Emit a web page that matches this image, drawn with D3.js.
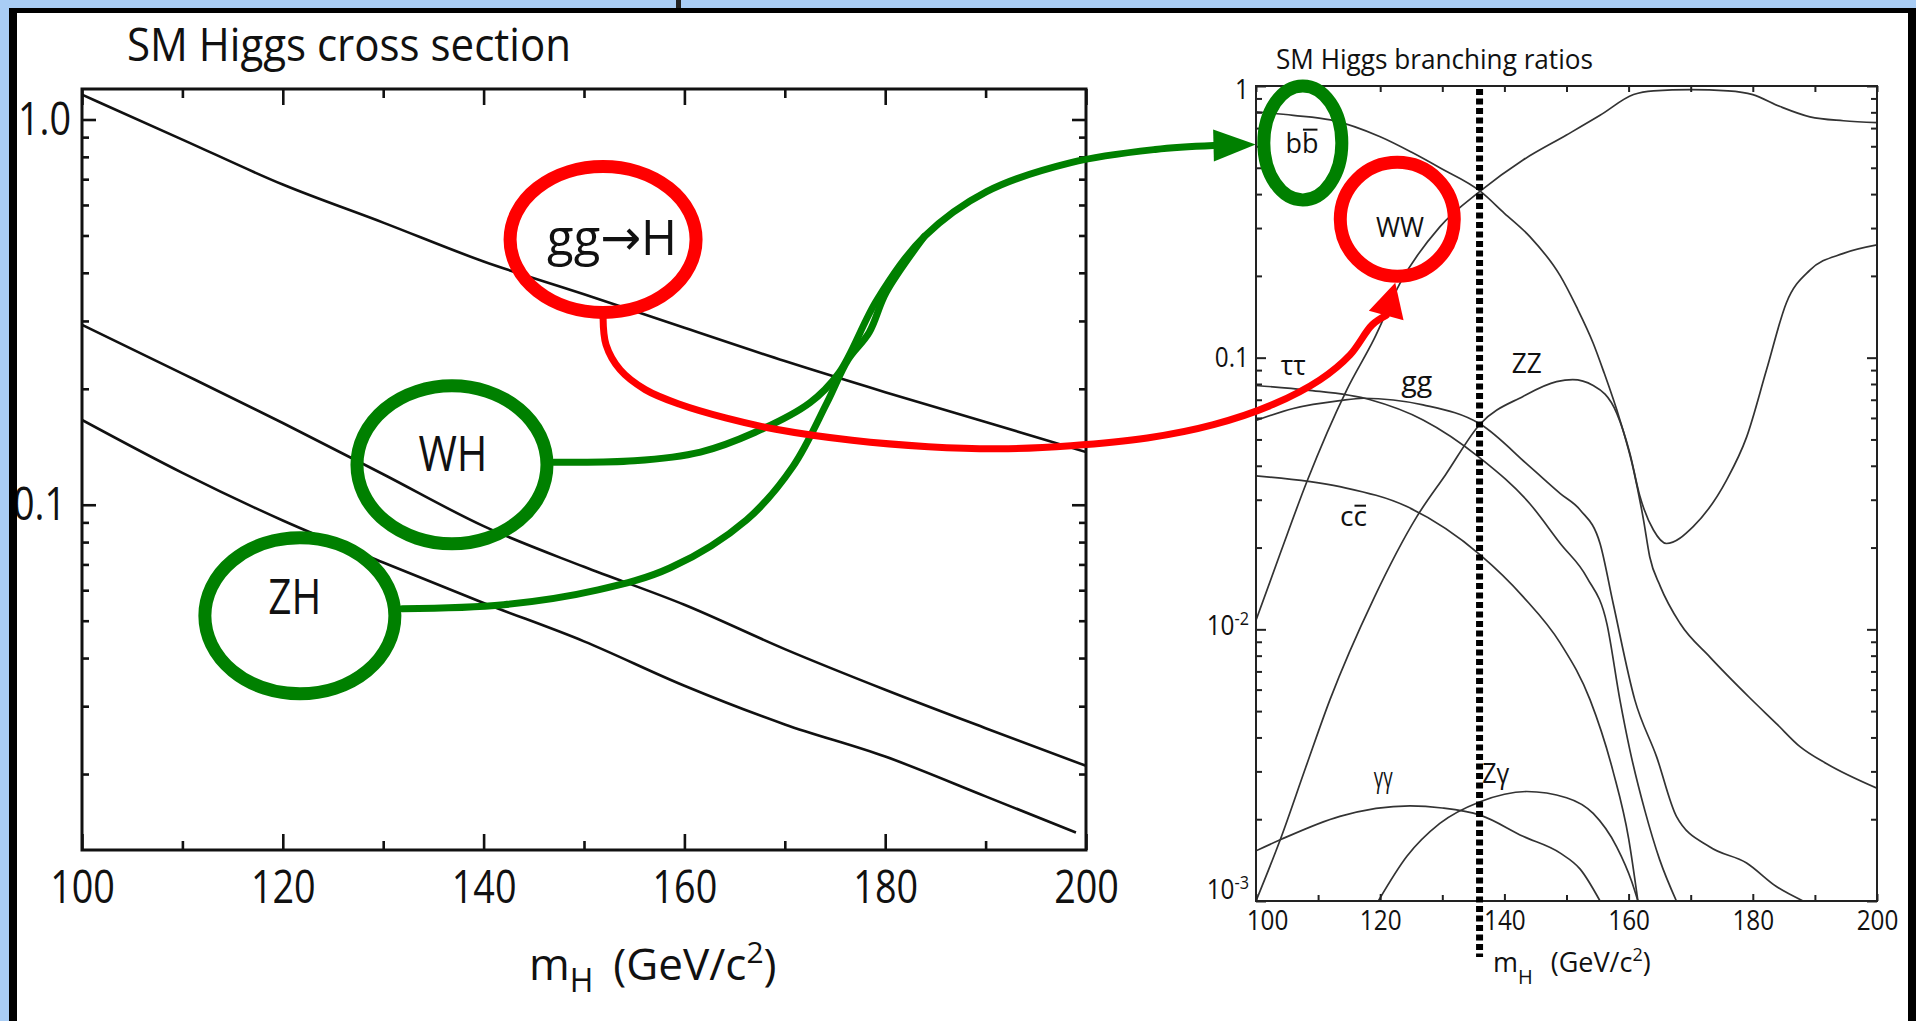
<!DOCTYPE html>
<html>
<head>
<meta charset="utf-8">
<title>SM Higgs cross section and branching ratios</title>
<script src="https://cdn.jsdelivr.net/npm/d3@7"></script>
<style>
  html, body { margin: 0; padding: 0; overflow: hidden; background: #a9cdf5; }
  svg { display: block; }
  text { font-family: "Open Sans", "DejaVu Sans", sans-serif; fill: #111; }
</style>
</head>
<body>
<svg id="figure" width="1916" height="1021"></svg>
<script>
// ---- cross section panel (log scale) ----
const xsMass = [100, 110, 120, 130, 140, 150, 160, 170, 180, 190, 200];
const xsGgH = [1.16, 0.887, 0.678, 0.54, 0.428, 0.352, 0.288, 0.236, 0.196, 0.164, 0.137];
const xsWH = [0.293, 0.219, 0.163, 0.120, 0.088, 0.069, 0.055, 0.0422, 0.0331, 0.0263, 0.021];
const xsZHMass = [100, 110, 120, 130, 140, 150, 160, 170, 180, 190, 199];
const xsZH = [0.166, 0.121, 0.091, 0.0708, 0.0556, 0.0442, 0.0339, 0.0269, 0.0222, 0.0175, 0.0141];
const xsMassTicks = [100, 120, 140, 160, 180, 200];
const xsValueTicks = [1.0, 0.1];

// ---- branching ratio panel: [mH, BR] ----
const brBB = [[100, 0.804], [106, 0.78], [112, 0.75], [120, 0.65], [125, 0.571], [129.6, 0.5], [136.1, 0.41], [140, 0.34], [144.1, 0.279], [149, 0.2], [151.6, 0.154], [154.3, 0.113], [155.9, 0.09], [158.6, 0.059], [160.8, 0.0386], [162.4, 0.0253], [163.4, 0.0185], [165.1, 0.0144], [168.3, 0.0105], [173.1, 0.0079], [179.5, 0.0056], [183.8, 0.0045], [187.6, 0.0037], [191.9, 0.0032], [200, 0.0026]];
const brWW = [[100, 0.0108], [104, 0.0193], [108.2, 0.035], [114.6, 0.076], [119, 0.117], [123.2, 0.188], [129.6, 0.303], [136.1, 0.41], [143, 0.534], [150, 0.66], [155.4, 0.78], [160.8, 0.93], [164, 0.96], [170, 0.97], [176, 0.96], [180, 0.93], [184.4, 0.84], [189.2, 0.77], [194.6, 0.745], [200, 0.733]];
const brZZ = [[100, 0.001], [103.9, 0.00168], [108, 0.0031], [111.9, 0.0055], [118.9, 0.0129], [125.9, 0.026], [130.5, 0.037], [136.1, 0.057], [143, 0.072], [148.4, 0.0816], [151, 0.083], [154.3, 0.079], [158.1, 0.0624], [160.2, 0.0445], [161.8, 0.031], [164, 0.0232], [166.1, 0.0207], [170.4, 0.0239], [175.8, 0.0355], [179, 0.051], [182.2, 0.09], [185.4, 0.159], [189.2, 0.21], [194.6, 0.242], [200, 0.26]];
const brTauTau = [[100, 0.079], [108.2, 0.076], [118.4, 0.07], [126.9, 0.059], [136.1, 0.0427], [144.1, 0.029], [149, 0.0207], [153.3, 0.0155], [156.5, 0.0105], [158.6, 0.0055], [160.2, 0.0036], [162.6, 0.00216], [165, 0.00142], [167.7, 0.001]];
const brGG = [[100, 0.0587], [106, 0.065], [113.5, 0.0695], [117.3, 0.0709], [126.9, 0.067], [136.1, 0.057], [144.1, 0.0397], [149, 0.0316], [152.2, 0.0275], [155.4, 0.0207], [157.5, 0.0125], [161, 0.0055], [164.5, 0.0034], [167.7, 0.00205], [173.1, 0.00158], [179, 0.00138], [183.8, 0.00113], [188.1, 0.001]];
const brCC = [[100, 0.0367], [113.5, 0.0335], [124.3, 0.0283], [136.1, 0.0188], [143, 0.0132], [149, 0.0089], [153.8, 0.0055], [157.5, 0.003], [160, 0.0017], [161.5, 0.001]];
const brGamGam = [[100, 0.00153], [103.9, 0.00168], [113.5, 0.00205], [124.8, 0.00224], [130, 0.0022], [136.1, 0.00207], [143, 0.00173], [149, 0.0015], [152.2, 0.00131], [155.4, 0.001]];
const brZGam = [[119.7, 0.001], [124.3, 0.00146], [129.6, 0.00193], [136.1, 0.00232], [143.6, 0.00253], [150, 0.0024], [154.3, 0.0021], [158.1, 0.00158], [160.5, 0.00118], [161.5, 0.001]];
const brMassTicks = [100, 120, 140, 160, 180, 200];
const brValueTicks = [1, 0.1, 0.01, 0.001];
const markerMass = 136;

const svg = d3.select("#figure");
const W = +svg.attr("width"), H = +svg.attr("height");

// squeeze text so the wide fallback font matches the narrow original
function condense(sel, k) {
  sel.each(function () {
    const w = this.getComputedTextLength();
    d3.select(this).attr("textLength", w * k).attr("lengthAdjust", "spacingAndGlyphs");
  });
}

function logMinors(domain) {
  const out = [];
  for (let e = -4; e <= 1; e++) {
    for (let m = 2; m <= 9; m++) {
      const v = m * Math.pow(10, e);
      if (v > domain[0] && v < domain[1]) out.push(v);
    }
  }
  return out;
}

function tidy(g, color, width) {
  g.select(".domain").remove();
  g.selectAll(".tick line").attr("stroke", color).attr("stroke-width", width);
}

// backdrop
svg.append("rect").attr("width", W).attr("height", H).attr("fill", "#a9cdf5");
svg.append("rect").attr("x", 9).attr("y", 9).attr("width", W - 9).attr("height", H).attr("fill", "#fff");

// ================= cross section panel =================
const xL = d3.scaleLinear().domain([100, 200]).range([82, 1086]);
const yL = d3.scaleLog().domain([0.0127, 1.2]).range([850, 89]);
const left = svg.append("g");

left.append("clipPath").attr("id", "clipL").append("rect")
  .attr("x", xL.range()[0]).attr("y", yL.range()[1])
  .attr("width", xL.range()[1] - xL.range()[0]).attr("height", yL.range()[0] - yL.range()[1]);

const lineL = d3.line().x(d => xL(d[0])).y(d => yL(d[1])).curve(d3.curveMonotoneX);
[d3.zip(xsMass, xsGgH), d3.zip(xsMass, xsWH), d3.zip(xsZHMass, xsZH)].forEach(s => {
  left.append("path").attr("d", lineL(s)).attr("fill", "none")
    .attr("stroke", "#111").attr("stroke-width", 2.6).attr("clip-path", "url(#clipL)");
});

const xsMinorMass = d3.range(110, 200, 20);
left.append("g").attr("transform", `translate(0,${yL.range()[0]})`)
  .call(d3.axisBottom(xL).tickValues(xsMassTicks).tickSize(-16).tickPadding(20).tickFormat(d3.format("d")))
  .call(tidy, "#111", 2.6)
  .call(g => g.selectAll("text").attr("font-size", 46).attr("fill", "#111"));
left.append("g").attr("transform", `translate(0,${yL.range()[0]})`)
  .call(d3.axisBottom(xL).tickValues(xsMinorMass).tickSize(-9).tickFormat(""))
  .call(tidy, "#111", 2.6);
left.append("g").attr("transform", `translate(0,${yL.range()[1]})`)
  .call(d3.axisTop(xL).tickValues(xsMassTicks).tickSize(-16).tickFormat(""))
  .call(tidy, "#111", 2.6);
left.append("g").attr("transform", `translate(0,${yL.range()[1]})`)
  .call(d3.axisTop(xL).tickValues(xsMinorMass).tickSize(-9).tickFormat(""))
  .call(tidy, "#111", 2.6);

left.append("g").attr("transform", `translate(${xL.range()[0]},0)`)
  .call(d3.axisLeft(yL).tickValues(xsValueTicks).tickSize(-14).tickPadding(11).tickFormat(d3.format(".1f")))
  .call(tidy, "#111", 2.6)
  .call(g => g.selectAll("text").attr("font-size", 46).attr("fill", "#111"))
  .call(g => g.selectAll("text").filter(d => d === 0.1).attr("dx", -5));
left.append("g").attr("transform", `translate(${xL.range()[0]},0)`)
  .call(d3.axisLeft(yL).tickValues(logMinors(yL.domain())).tickSize(-7).tickFormat(""))
  .call(tidy, "#111", 2.6);
left.append("g").attr("transform", `translate(${xL.range()[1]},0)`)
  .call(d3.axisRight(yL).tickValues(xsValueTicks).tickSize(-14).tickFormat(""))
  .call(tidy, "#111", 2.6);
left.append("g").attr("transform", `translate(${xL.range()[1]},0)`)
  .call(d3.axisRight(yL).tickValues(logMinors(yL.domain())).tickSize(-7).tickFormat(""))
  .call(tidy, "#111", 2.6);
left.selectAll(".tick text").call(condense, 0.82);

left.append("rect")
  .attr("x", xL.range()[0]).attr("y", yL.range()[1])
  .attr("width", xL.range()[1] - xL.range()[0]).attr("height", yL.range()[0] - yL.range()[1])
  .attr("fill", "none").attr("stroke", "#111").attr("stroke-width", 3);

left.append("text").attr("x", 127).attr("y", 61).attr("font-size", 46)
  .text("SM Higgs cross section").attr("textLength", 444).attr("lengthAdjust", "spacingAndGlyphs");

const xTitleL = left.append("text").attr("x", 529).attr("y", 980).attr("font-size", 44);
xTitleL.append("tspan").text("m");
xTitleL.append("tspan").attr("font-size", 32).attr("dy", 12).text("H");
xTitleL.append("tspan").attr("dy", -12).attr("dx", 20).text("(GeV/c");
xTitleL.append("tspan").attr("font-size", 30).attr("dy", -17).text("2");
xTitleL.append("tspan").attr("dy", 17).text(")");

// ================= branching ratio panel =================
const xR = d3.scaleLinear().domain([100, 200]).range([1256, 1877]);
const yR = d3.scaleLog().domain([0.001, 1]).range([901, 86]);
const right = svg.append("g");

right.append("clipPath").attr("id", "clipR").append("rect")
  .attr("x", xR.range()[0]).attr("y", yR.range()[1])
  .attr("width", xR.range()[1] - xR.range()[0]).attr("height", yR.range()[0] - yR.range()[1]);

const lineR = d3.line().x(d => xR(d[0])).y(d => yR(d[1])).curve(d3.curveMonotoneX);
[brBB, brWW, brZZ, brTauTau, brGG, brCC, brGamGam, brZGam].forEach(s => {
  right.append("path").attr("d", lineR(s)).attr("fill", "none")
    .attr("stroke", "#333").attr("stroke-width", 1.7).attr("clip-path", "url(#clipR)");
});

const brMinorMass = d3.range(110, 200, 20);
right.append("g").attr("transform", `translate(0,${yR.range()[0]})`)
  .call(d3.axisBottom(xR).tickValues(brMassTicks).tickSize(-7).tickPadding(10).tickFormat(d3.format("d")))
  .call(tidy, "#222", 2)
  .call(g => g.selectAll("text").attr("font-size", 27).attr("fill", "#111"))
  .call(g => g.selectAll("text").filter(d => d === 100).attr("dx", 11));
right.append("g").attr("transform", `translate(0,${yR.range()[0]})`)
  .call(d3.axisBottom(xR).tickValues(brMinorMass).tickSize(-6).tickFormat(""))
  .call(tidy, "#222", 2);
right.append("g").attr("transform", `translate(0,${yR.range()[1]})`)
  .call(d3.axisTop(xR).tickValues(d3.range(100, 201, 10)).tickSize(-6).tickFormat(""))
  .call(tidy, "#222", 2);

const yAxisR = right.append("g").attr("transform", `translate(${xR.range()[0]},0)`)
  .call(d3.axisLeft(yR).tickValues(brValueTicks).tickSize(-10).tickPadding(7).tickFormat(""))
  .call(tidy, "#222", 2);
yAxisR.selectAll(".tick text").each(function (d) {
  const t = d3.select(this).attr("font-size", 27).attr("fill", "#111");
  if (d >= 0.1) {
    t.text(d === 1 ? "1" : "0.1");
  } else {
    t.append("tspan").text("10");
    t.append("tspan").attr("font-size", 18).attr("dy", -10).text(`-${Math.round(-Math.log10(d))}`);
  }
  if (d === 1) t.attr("dy", "0.45em");
  if (d === 0.01) t.attr("dy", "0.2em");
  if (d === 0.001) t.attr("dy", "-0.1em");
});
right.append("g").attr("transform", `translate(${xR.range()[0]},0)`)
  .call(d3.axisLeft(yR).tickValues(logMinors(yR.domain())).tickSize(-6).tickFormat(""))
  .call(tidy, "#222", 2);
right.append("g").attr("transform", `translate(${xR.range()[1]},0)`)
  .call(d3.axisRight(yR).tickValues(brValueTicks).tickSize(-10).tickFormat(""))
  .call(tidy, "#222", 2);
right.append("g").attr("transform", `translate(${xR.range()[1]},0)`)
  .call(d3.axisRight(yR).tickValues(logMinors(yR.domain())).tickSize(-6).tickFormat(""))
  .call(tidy, "#222", 2);
right.selectAll(".tick text").call(condense, 0.9);

right.append("rect")
  .attr("x", xR.range()[0]).attr("y", yR.range()[1])
  .attr("width", xR.range()[1] - xR.range()[0]).attr("height", yR.range()[0] - yR.range()[1])
  .attr("fill", "none").attr("stroke", "#222").attr("stroke-width", 2);

right.append("text").attr("x", 1276).attr("y", 69).attr("font-size", 27)
  .text("SM Higgs branching ratios").attr("textLength", 317).attr("lengthAdjust", "spacingAndGlyphs");

const xTitleR = right.append("text").attr("x", 1493).attr("y", 972).attr("font-size", 27);
xTitleR.append("tspan").text("m");
xTitleR.append("tspan").attr("font-size", 20).attr("dy", 12).text("H");
xTitleR.append("tspan").attr("dy", -12).attr("dx", 18).text("(GeV/c");
xTitleR.append("tspan").attr("font-size", 18).attr("dy", -11).text("2");
xTitleR.append("tspan").attr("dy", 11).text(")");

// channel labels, placed in (mH, BR); "bar" marks an antiparticle
const channelLabels = [
  { text: "b", bar: "b", m: 107.4, br: 0.615, w: 33 },
  { text: "WW", m: 123.2, br: 0.303, w: 48 },
  { text: "ττ", m: 106, br: 0.094, w: 25 },
  { text: "gg", m: 125.9, br: 0.0816, w: 31 },
  { text: "ZZ", m: 143.6, br: 0.0953, w: 30 },
  { text: "c", bar: "c", m: 115.7, br: 0.026, w: 27 },
  { text: "γγ", m: 120.5, br: 0.00286, w: 19 },
  { text: "Zγ", m: 138.6, br: 0.00295, w: 27 }
];
channelLabels.forEach(l => {
  const fs = 28;
  const t = right.append("text").attr("x", xR(l.m)).attr("y", yR(l.br))
    .attr("dy", "0.35em").attr("text-anchor", "middle").attr("font-size", fs)
    .text(l.text + (l.bar || ""))
    .attr("textLength", l.w).attr("lengthAdjust", "spacingAndGlyphs");
  if (l.bar) {
    const ext = t.node().getExtentOfChar(l.text.length);
    const base = yR(l.br) + 0.35 * fs;
    const yBar = base - (l.bar === "b" ? 0.84 : 0.74) * fs;
    right.append("line")
      .attr("x1", ext.x + 1).attr("x2", ext.x + ext.width - 1)
      .attr("y1", yBar).attr("y2", yBar)
      .attr("stroke", "#111").attr("stroke-width", 2);
  }
});

// vertical marker
svg.append("line")
  .attr("x1", xR(markerMass)).attr("x2", xR(markerMass))
  .attr("y1", yR.range()[1] + 3).attr("y2", 957)
  .attr("stroke", "#000").attr("stroke-width", 7).attr("stroke-dasharray", "6 3.5");

// ================= hand-drawn annotations =================
const RED = "#ff0000", GREEN = "#008000";
const ringsL = [
  { label: "gg→H", m: 151.9, v: 0.488, tm: 152.8, tv: 0.494, rx: 93, ry: 73, color: RED, w: 130 },
  { label: "WH", m: 136.85, v: 0.127, tm: 136.95, tv: 0.1365, rx: 95, ry: 79, color: GREEN, w: 69 },
  { label: "ZH", m: 121.7, v: 0.0515, tm: 121.2, tv: 0.0578, rx: 95, ry: 78, color: GREEN, w: 53 }
];
const ringsR = [
  { m: 107.54, v: 0.617, rx: 39, ry: 57, color: GREEN },
  { m: 122.75, v: 0.323, rx: 57, ry: 57, color: RED }
];
const notes = svg.append("g");
ringsL.forEach(r => {
  notes.append("ellipse").attr("cx", xL(r.m)).attr("cy", yL(r.v)).attr("rx", r.rx).attr("ry", r.ry)
    .attr("fill", "none").attr("stroke", r.color).attr("stroke-width", 13);
  notes.append("text").attr("x", xL(r.tm)).attr("y", yL(r.tv)).attr("dy", "0.36em")
    .attr("text-anchor", "middle").attr("font-size", 50).text(r.label)
    .attr("textLength", r.w).attr("lengthAdjust", "spacingAndGlyphs");
});
ringsR.forEach(r => {
  notes.append("ellipse").attr("cx", xR(r.m)).attr("cy", yR(r.v)).attr("rx", r.rx).attr("ry", r.ry)
    .attr("fill", "none").attr("stroke", r.color).attr("stroke-width", 13);
});

// arrow routes, in the cross-section panel's (mH, sigma) frame
const routeWH = [[147.0, 0.129], [155.0, 0.130], [161.6, 0.137], [167.0, 0.154], [172.5, 0.184], [175.4, 0.220], [179.2, 0.341], [183.9, 0.497], [190.1, 0.650], [198.5, 0.773], [206.9, 0.836], [212.7, 0.856]];
const routeZH = [[131.9, 0.0537], [142.0, 0.0550], [151.4, 0.0601], [158.6, 0.0686], [166.2, 0.0914], [170.8, 0.1256], [174.2, 0.184], [176.3, 0.238], [178.4, 0.280], [180.1, 0.356], [183.9, 0.497]];
const routeGgH = [[151.9, 0.306], [152.2, 0.260], [153.6, 0.224], [156.1, 0.199], [159.6, 0.182], [164.1, 0.168], [169.1, 0.157], [176.7, 0.147], [184.3, 0.1415], [191.3, 0.1397], [198.5, 0.1423], [206.1, 0.149], [212.7, 0.1614], [218.6, 0.182], [223.3, 0.211], [226.3, 0.245], [228.5, 0.293], [229.9, 0.310]];
const headWH = { base: [212.7, 0.856], tip: [216.9, 0.861], half: 16 };
const headGgH = { base: [229.9, 0.310], tip: [230.8, 0.377], half: 18 };

const route = d3.line().x(d => xL(d[0])).y(d => yL(d[1])).curve(d3.curveCatmullRom.alpha(0.5));
[[routeWH, GREEN], [routeZH, GREEN], [routeGgH, RED]].forEach(([pts, c]) => {
  notes.append("path").attr("d", route(pts)).attr("fill", "none")
    .attr("stroke", c).attr("stroke-width", 7).attr("stroke-linecap", "round").attr("stroke-linejoin", "round");
});
[[headWH, GREEN], [headGgH, RED]].forEach(([h, c]) => {
  const bx = xL(h.base[0]), by = yL(h.base[1]), tx = xL(h.tip[0]), ty = yL(h.tip[1]);
  const len = Math.hypot(tx - bx, ty - by), nx = -(ty - by) / len, ny = (tx - bx) / len;
  const pts = [[tx, ty], [bx + nx * h.half, by + ny * h.half], [bx - nx * h.half, by - ny * h.half]];
  notes.append("polygon").attr("points", pts.map(p => p.join(",")).join(" ")).attr("fill", c);
});

// frame of the slide
svg.append("rect").attr("x", 676).attr("y", 0).attr("width", 5).attr("height", 9).attr("fill", "#222");
svg.append("rect").attr("x", 9).attr("y", 8).attr("width", W - 9).attr("height", 5).attr("fill", "#000");
svg.append("rect").attr("x", 9).attr("y", 8).attr("width", 8).attr("height", H).attr("fill", "#000");
svg.append("rect").attr("x", 1908).attr("y", 8).attr("width", 8).attr("height", H).attr("fill", "#000");
</script>
</body>
</html>
